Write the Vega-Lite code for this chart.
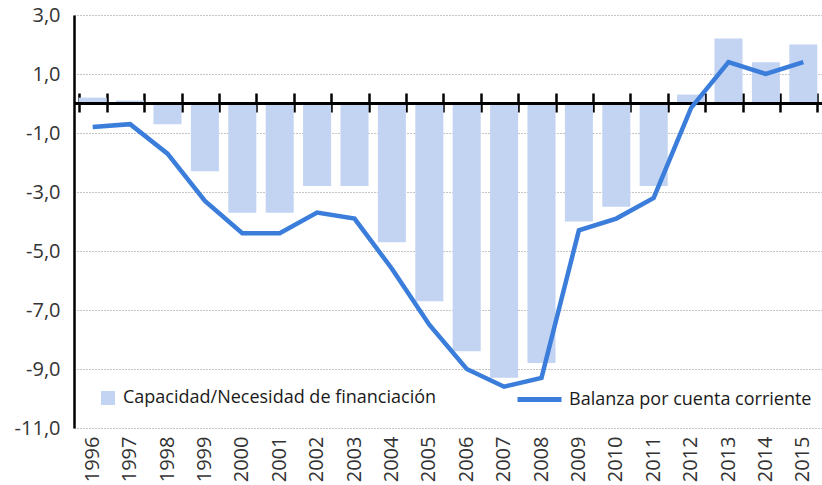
{
  "$schema": "https://vega.github.io/schema/vega-lite/v6.json",
  "width": 748,
  "height": 413,
  "autosize": {"type": "none"},
  "padding": {"left": 74, "top": 15, "right": 0, "bottom": 57},
  "background": "white",
  "config": {
    "view": {"stroke": null},
    "font": "Open Sans",
    "axis": {"labelFont": "Open Sans", "labelColor": "#333333"},
    "legend": {"labelFont": "Open Sans", "labelColor": "#1a1a1a", "padding": 0, "labelLimit": 0}
  },
  "data": {
    "values": [
      {"year": "1996", "cap": 0.2, "bal": -0.8},
      {"year": "1997", "cap": 0.1, "bal": -0.7},
      {"year": "1998", "cap": -0.7, "bal": -1.7},
      {"year": "1999", "cap": -2.3, "bal": -3.3},
      {"year": "2000", "cap": -3.7, "bal": -4.4},
      {"year": "2001", "cap": -3.7, "bal": -4.4},
      {"year": "2002", "cap": -2.8, "bal": -3.7},
      {"year": "2003", "cap": -2.8, "bal": -3.9},
      {"year": "2004", "cap": -4.7, "bal": -5.6},
      {"year": "2005", "cap": -6.7, "bal": -7.5},
      {"year": "2006", "cap": -8.4, "bal": -9.0},
      {"year": "2007", "cap": -9.3, "bal": -9.6},
      {"year": "2008", "cap": -8.8, "bal": -9.3},
      {"year": "2009", "cap": -4.0, "bal": -4.3},
      {"year": "2010", "cap": -3.5, "bal": -3.9},
      {"year": "2011", "cap": -2.8, "bal": -3.2},
      {"year": "2012", "cap": 0.3, "bal": -0.15},
      {"year": "2013", "cap": 2.2, "bal": 1.4},
      {"year": "2014", "cap": 1.4, "bal": 1.0},
      {"year": "2015", "cap": 2.0, "bal": 1.4}
    ]
  },
  "resolve": {"axis": {"x": "independent"}},
  "layer": [
    {
      "mark": {"type": "bar"},
      "encoding": {
        "x": {
          "field": "year", "type": "nominal", "sort": null,
          "scale": {"paddingInner": 0.25, "paddingOuter": 0.125},
          "axis": {"orient": "bottom", "title": null, "labelAngle": -90, "labelFontSize": 20, "labelPadding": 8, "ticks": false, "domain": false, "grid": false, "labelBaseline": "middle", "labelAlign": "right"}
        },
        "y": {
          "field": "cap", "type": "quantitative",
          "scale": {"domain": [-11, 3], "nice": false, "zero": false},
          "axis": {"title": null, "values": [-11, -9, -7, -5, -3, -1, 1, 3], "labelExpr": "replace(replace(format(datum.value, '.1f'), '.', ','), '\u2212', '-')", "labelFontSize": 20, "labelPadding": 14, "ticks": false, "domain": true, "domainColor": "black", "domainWidth": 2.5, "grid": true, "gridColor": "#8a8a8a", "gridDash": [1, 2], "gridWidth": 1}
        },
        "fill": {
          "datum": "Capacidad/Necesidad de financiación",
          "scale": {"range": ["#c3d4f3"]},
          "legend": {"title": null, "orient": "none", "legendX": 25, "legendY": 374, "symbolType": "square", "symbolSize": 196, "labelFontSize": 18, "labelOffset": 6, "symbolStrokeWidth": 0}
        }
      }
    },
    {
      "mark": {"type": "rule", "color": "black", "strokeWidth": 2.5},
      "encoding": {"y": {"datum": 0}}
    },
    {
      "mark": {"type": "line", "strokeWidth": 4.5, "strokeJoin": "miter"},
      "encoding": {
        "x": {
          "field": "year", "type": "nominal", "sort": null,
          "axis": {"orient": "top", "offset": -97, "title": null, "labels": false, "domain": false, "grid": false, "ticks": true, "tickBand": "extent", "tickSize": 19, "tickWidth": 2.5, "tickColor": "black"}
        },
        "y": {"field": "bal", "type": "quantitative"},
        "stroke": {
          "datum": "Balanza por cuenta corriente",
          "scale": {"range": ["#3a7dda"]},
          "legend": {"title": null, "orient": "none", "legendX": 441, "legendY": 360, "symbolType": "stroke", "symbolSize": 1936, "symbolStrokeWidth": 5, "labelFontSize": 18, "labelOffset": 5}
        }
      }
    }
  ]
}
